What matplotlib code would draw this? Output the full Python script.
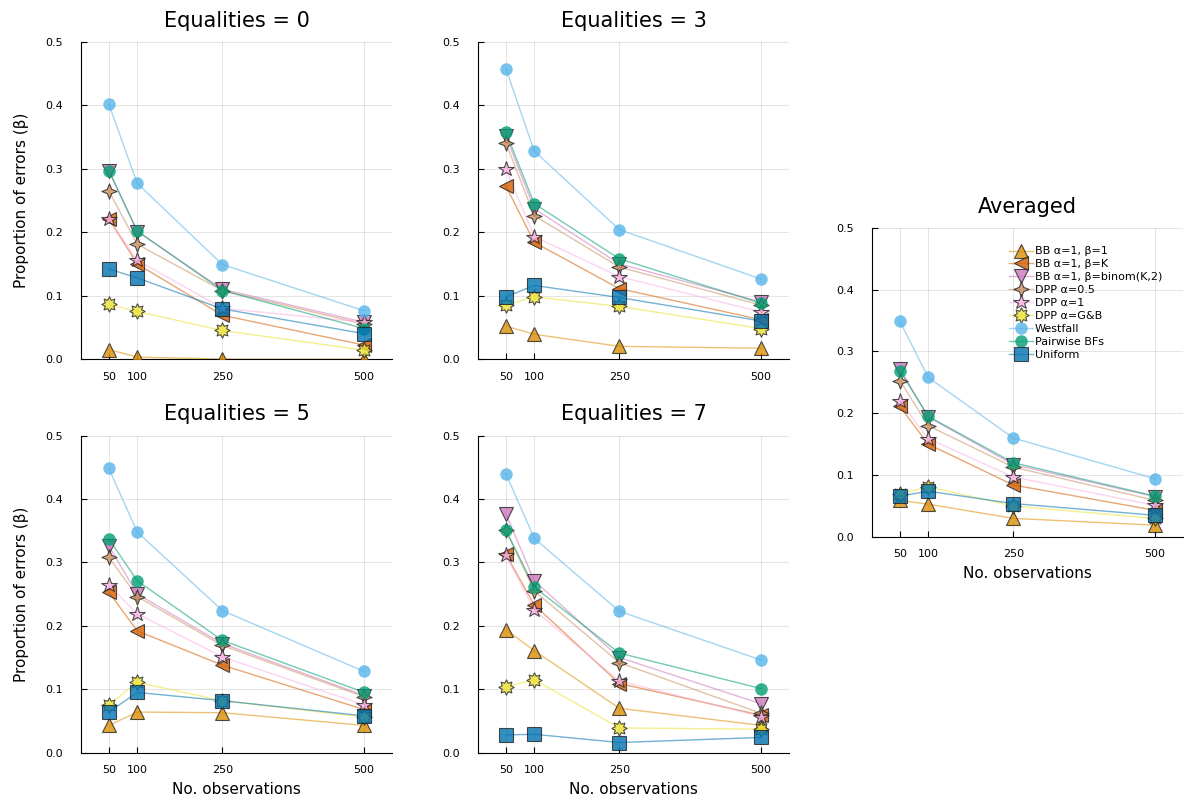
import numpy as np
import matplotlib
matplotlib.use('Agg')
import matplotlib.pyplot as plt
from matplotlib.lines import Line2D
from matplotlib.path import Path

# number of observations on the x axis
n_obs = [50, 100, 250, 500]

methods = ['BB α=1, β=1', 'BB α=1, β=K', 'BB α=1, β=binom(K,2)',
           'DPP α=0.5', 'DPP α=1', 'DPP α=G&B',
           'Westfall', 'Pairwise BFs', 'Uniform']

# proportion of errors, one row per method (same order as `methods`)
eq0_errors = [
    [0.015, 0.003, 0.000, 0.000],
    [0.221, 0.150, 0.069, 0.022],
    [0.297, 0.201, 0.110, 0.058],
    [0.265, 0.181, 0.108, 0.055],
    [0.221, 0.156, 0.080, 0.058],
    [0.086, 0.075, 0.045, 0.014],
    [0.402, 0.277, 0.149, 0.076],
    [0.297, 0.202, 0.108, 0.048],
    [0.142, 0.128, 0.079, 0.040],
]
eq3_errors = [
    [0.052, 0.039, 0.020, 0.017],
    [0.273, 0.184, 0.111, 0.062],
    [0.352, 0.237, 0.150, 0.090],
    [0.341, 0.226, 0.145, 0.085],
    [0.300, 0.193, 0.130, 0.074],
    [0.085, 0.098, 0.083, 0.048],
    [0.458, 0.328, 0.204, 0.126],
    [0.358, 0.245, 0.158, 0.088],
    [0.098, 0.116, 0.097, 0.060],
]
eq5_errors = [
    [0.043, 0.064, 0.063, 0.043],
    [0.253, 0.192, 0.138, 0.068],
    [0.326, 0.250, 0.172, 0.090],
    [0.308, 0.246, 0.169, 0.088],
    [0.264, 0.219, 0.151, 0.075],
    [0.075, 0.111, 0.082, 0.056],
    [0.448, 0.348, 0.224, 0.128],
    [0.337, 0.271, 0.177, 0.095],
    [0.064, 0.095, 0.082, 0.058],
]
eq7_errors = [
    [0.194, 0.161, 0.070, 0.043],
    [0.313, 0.233, 0.109, 0.059],
    [0.377, 0.271, 0.150, 0.077],
    [0.351, 0.255, 0.142, 0.062],
    [0.312, 0.225, 0.113, 0.057],
    [0.104, 0.115, 0.039, 0.037],
    [0.440, 0.338, 0.223, 0.146],
    [0.351, 0.261, 0.157, 0.101],
    [0.028, 0.029, 0.016, 0.024],
]
avg_errors = [
    [0.059, 0.053, 0.030, 0.019],
    [0.211, 0.150, 0.084, 0.043],
    [0.272, 0.194, 0.117, 0.065],
    [0.253, 0.180, 0.113, 0.059],
    [0.220, 0.159, 0.097, 0.051],
    [0.070, 0.081, 0.050, 0.030],
    [0.349, 0.258, 0.160, 0.094],
    [0.269, 0.195, 0.120, 0.066],
    [0.066, 0.074, 0.054, 0.035],
]


def star_marker(points, inner):
    ang = np.pi / 2 + np.arange(2 * points) * np.pi / points
    rad = np.where(np.arange(2 * points) % 2 == 0, 1.0, inner)
    verts = np.column_stack([rad * np.cos(ang), rad * np.sin(ang)])
    verts = np.vstack([verts, verts[:1]])
    return Path(verts, closed=True)


colors = ['#DE8F05', '#D55E00', '#CC78BC', '#CA9161', '#FBAFE4',
          '#ECE133', '#56B4E9', '#029E73', '#0173B2']
markers = ['^', '<', 'v', star_marker(4, 0.4), '*', star_marker(8, 0.6),
           'o', 'o', 's']
msizes = [10, 10, 10, 11, 11.5, 11, 9, 9, 10]
edge_w = [0.8, 0.8, 0.8, 0.8, 0.8, 0.8, 0.0, 0.0, 0.8]

plt.rcParams['font.family'] = ['DejaVu Sans']

fig = plt.figure(figsize=(11.9, 8.05), dpi=100)

# axes rectangles in figure fraction
w, h = 0.2613, 0.394
ax_tl = fig.add_axes([0.0681, 0.554, w, h])
ax_tr = fig.add_axes([0.4017, 0.554, w, h])
ax_bl = fig.add_axes([0.0681, 0.065, w, h])
ax_br = fig.add_axes([0.4017, 0.065, w, h])
ax_avg = fig.add_axes([0.7328, 0.333, w, 0.384])

panels = [
    (ax_tl, eq0_errors, 'Equalities = 0'),
    (ax_tr, eq3_errors, 'Equalities = 3'),
    (ax_bl, eq5_errors, 'Equalities = 5'),
    (ax_br, eq7_errors, 'Equalities = 7'),
    (ax_avg, avg_errors, 'Averaged'),
]

for ax, errors, title in panels:
    for i, vals in enumerate(errors):
        ax.plot(n_obs, vals, color=colors[i], lw=1.0, alpha=0.55, zorder=2)
        ax.plot(n_obs, vals, ls='none', marker=markers[i], ms=msizes[i],
                mfc=colors[i], mec='#222222', mew=edge_w[i], alpha=0.8,
                zorder=3)
    ax.set_xlim(1, 549)
    ax.set_ylim(0, 0.5)
    ax.set_xticks(n_obs)
    ax.set_yticks([0.0, 0.1, 0.2, 0.3, 0.4, 0.5])
    ax.set_yticklabels(['0.0', '0.1', '0.2', '0.3', '0.4', '0.5'])
    ax.tick_params(direction='in', labelsize=8, length=4, width=0.8)
    ax.tick_params(axis='x', pad=9)
    ax.tick_params(axis='y', pad=13)
    ax.grid(True, color='black', alpha=0.1, lw=0.8)
    ax.set_axisbelow(True)
    for side in ['top', 'right']:
        ax.spines[side].set_visible(False)
    ax.set_title(title, fontsize=15, pad=11)

for ax in [ax_tl, ax_bl]:
    ax.set_ylabel('Proportion of errors (β)', fontsize=11, labelpad=12)
for ax in [ax_bl, ax_br, ax_avg]:
    ax.set_xlabel('No. observations', fontsize=11, labelpad=5)

handles = []
for i in range(len(methods)):
    ln = Line2D([], [], color=colors[i], lw=1.0, alpha=0.55)
    mk = Line2D([], [], ls='none', marker=markers[i], ms=msizes[i],
                mfc=colors[i], mec='#222222', mew=edge_w[i], alpha=0.8)
    handles.append((ln, mk))

ax_avg.legend(handles, methods, loc='upper left', bbox_to_anchor=(0.415, 0.965),
              frameon=False, fontsize=8, handlelength=2.2, handletextpad=0.15,
              labelspacing=0.26, borderpad=0.2)

fig.savefig('out.png', dpi=100)
